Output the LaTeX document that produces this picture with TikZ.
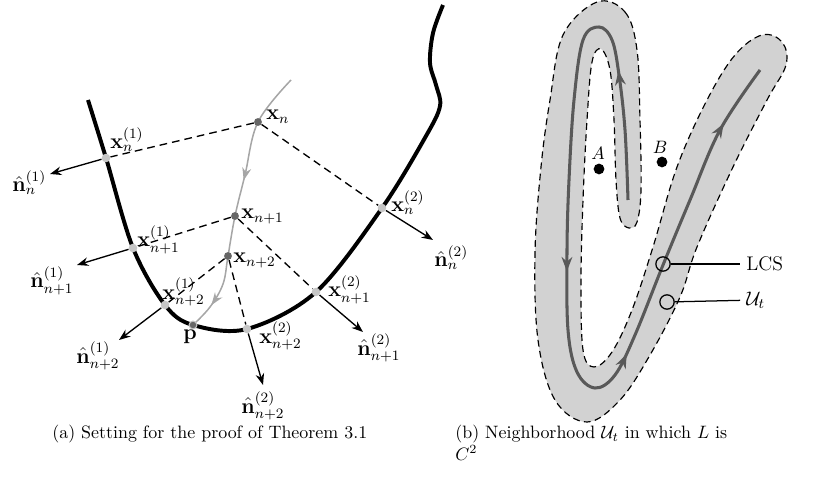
\documentclass[tikz,border=0pt]{standalone}
\usepackage{amsmath,amssymb}
\usepackage{tikz}
\usetikzlibrary{arrows.meta,decorations.markings,backgrounds}

\begin{document}
\begin{tikzpicture}[
    x=0.0196cm, y=-0.0196cm,
    >=Stealth,
    % Styles
    iter/.style={circle, fill=gray!80!black, inner sep=0pt, minimum size=4.4pt},
    foot/.style={circle, fill=gray!45, inner sep=0pt, minimum size=4.8pt},
    proj/.style={dash pattern=on 4.3pt off 2.8pt, line width=0.75pt},
    normal/.style={->, line width=0.75pt},
    ridge/.style={line width=2.2pt, black},
    traj/.style={line width=0.85pt, gray!70},
    band/.style={fill=gray!35, draw=black, dash pattern=on 3.8pt off 2.4pt, line width=0.65pt},
    lcs/.style={line width=1.7pt, black!65},
    probe/.style={circle, draw=black, line width=0.7pt, inner sep=0pt, minimum size=8pt},
    lbl/.style={inner sep=0pt, anchor=base west, font=\large},
    tag/.style={anchor=west, font=\fontsize{11}{13}\selectfont}
]
\useasboundingbox (0,0) rectangle (824,496);

% --- (a) iterates and their feet ---
\node[iter] (x_n)  at (258,122) {};
\node[iter] (x_n1) at (235,216) {};
\node[iter] (x_n2) at (228,256) {};
\node[iter, draw=gray!45, line width=0.6pt] (p) at (193,325) {};
\node[foot] (x1_n)  at (106,158) {};
\node[foot] (x1_n1) at (133,248) {};
\node[foot] (x1_n2) at (165,305) {};
\node[foot] (x2_n)  at (382,208) {};
\node[foot] (x2_n1) at (316,292) {};
\node[foot] (x2_n2) at (247,329) {};

% free ends of the normals
\coordinate (nh1_n)  at (50,174);
\coordinate (nh1_n1) at (77,265);
\coordinate (nh1_n2) at (119,340);
\coordinate (nh2_n)  at (433,240);
\coordinate (nh2_n1) at (363,332);
\coordinate (nh2_n2) at (263,385);

\begin{scope}[on background layer]
    % ridge curve
    \draw[ridge] plot[smooth, tension=0.55] coordinates {(88,100) (x1_n.center) (x1_n1.center) (x1_n2.center) (p.center) (x2_n2.center) (x2_n1.center) (x2_n.center) (426,136) (440,106) (436,85) (430,63) (433,33) (443,5)};
    % trajectory
    \draw[traj, postaction={decorate, decoration={markings,
        mark=at position 0.42 with {\arrow{Stealth[length=7pt, width=5pt]}},
        mark=at position 0.9 with {\arrow{Stealth[length=7pt, width=5pt]}}}}]
        plot[smooth, tension=0.6] coordinates {(291,80) (x_n.center) (245,175) (x_n1.center) (x_n2.center) (223,284) (210,307) (p.center)};
\end{scope}

% projections
\draw[proj] (x_n) -- (x1_n);
\draw[proj] (x_n) -- (x2_n);
\draw[proj] (x_n1) -- (x1_n1);
\draw[proj] (x_n1) -- (x2_n1);
\draw[proj] (x_n2) -- (x1_n2);
\draw[proj] (x_n2) -- (x2_n2);

% normals
\draw[normal] (x1_n) -- (nh1_n);
\draw[normal] (x1_n1) -- (nh1_n1);
\draw[normal] (x1_n2) -- (nh1_n2);
\draw[normal] (x2_n) -- (nh2_n);
\draw[normal] (x2_n1) -- (nh2_n1);
\draw[normal] (x2_n2) -- (nh2_n2);

% labels
\node[lbl] at (266,120) {$\mathbf{x}_n$};
\node[lbl] at (241,219) {$\mathbf{x}_{n+1}$};
\node[lbl] at (233,263) {$\mathbf{x}_{n+2}$};
\node[lbl] at (110,149) {$\mathbf{x}_n^{(1)}$};
\node[lbl] at (137,247) {$\mathbf{x}_{n+1}^{(1)}$};
\node[lbl] at (162,299) {$\mathbf{x}_{n+2}^{(1)}$};
\node[lbl] at (391,212) {$\mathbf{x}_n^{(2)}$};
\node[lbl] at (328,297) {$\mathbf{x}_{n+1}^{(2)}$};
\node[lbl] at (259,343) {$\mathbf{x}_{n+2}^{(2)}$};
\node[lbl] at (183,339) {$\mathbf{p}$};
\node[lbl] at (12,192) {$\hat{\mathbf{n}}_n^{(1)}$};
\node[lbl] at (30,288) {$\hat{\mathbf{n}}_{n+1}^{(1)}$};
\node[lbl] at (76,363) {$\hat{\mathbf{n}}_{n+2}^{(1)}$};
\node[lbl] at (434,267) {$\hat{\mathbf{n}}_n^{(2)}$};
\node[lbl] at (357,355) {$\hat{\mathbf{n}}_{n+1}^{(2)}$};
\node[lbl] at (241,413) {$\hat{\mathbf{n}}_{n+2}^{(2)}$};

% --- (b) neighbourhood of the LCS ---
\draw[band] plot[smooth cycle, tension=0.6] coordinates {
    (597,2) (625,12) (637,50) (640,120) (641,190) (637,222) (629,228) (620,218)
    (616,180) (614,120) (610,70) (601,49) (592,62) (587,120) (583,200) (581,280)
    (583,350) (594,367) (612,352) (632,310) (653,247) (677,167) (707,100) (735,55)
    (762,35) (782,42) (786,65) (767,100) (733,167) (697,247) (680,297) (650,355)
    (620,400) (587,422) (555,400) (538,340) (535,253) (541,167) (550,100) (563,35)};
\draw[lcs, postaction={decorate, decoration={markings,
    mark=at position 0.14 with {\arrow{Stealth[length=8pt, width=6pt]}},
    mark=at position 0.47 with {\arrow{Stealth[length=8pt, width=6pt]}},
    mark=at position 0.66 with {\arrow{Stealth[length=8pt, width=6pt]}},
    mark=at position 0.93 with {\arrow{Stealth[length=8pt, width=6pt]}}}}]
    plot[smooth, tension=0.6] coordinates {(628,200) (625,130) (619,75) (612,40) (599,27) (583,40) (574,100) (569,180) (567,250) (568,330) (577,372) (595,388) (615,375) (635,335) (663,265) (690,200) (720,130) (760,70)};

\fill (599,169) circle (3pt);
\fill (662,162) circle (3pt);
\node at (598,153) {$A$};
\node at (660,147) {$B$};

\node[probe] (lcs_pt) at (663,264) {};
\node[probe] (ut_pt) at (667,302) {};
\node[tag] (lcs_lbl) at (740,264) {LCS};
\node[tag] (ut_lbl) at (740,300) {$\mathcal{U}_t$};
\draw[line width=0.7pt] (lcs_pt) -- (lcs_lbl);
\draw[line width=0.7pt] (ut_pt) -- (ut_lbl);

% --- captions ---
\node[anchor=base west, inner sep=0pt] (cap_a) at (52,438) {(a) Setting for the proof of Theorem 3.1};
\node[anchor=north west, inner sep=0pt, align=left] (cap_b) at (455,425) {(b) Neighborhood $\mathcal{U}_t$ in which $L$ is\\$C^2$};

\end{tikzpicture}
\end{document}
